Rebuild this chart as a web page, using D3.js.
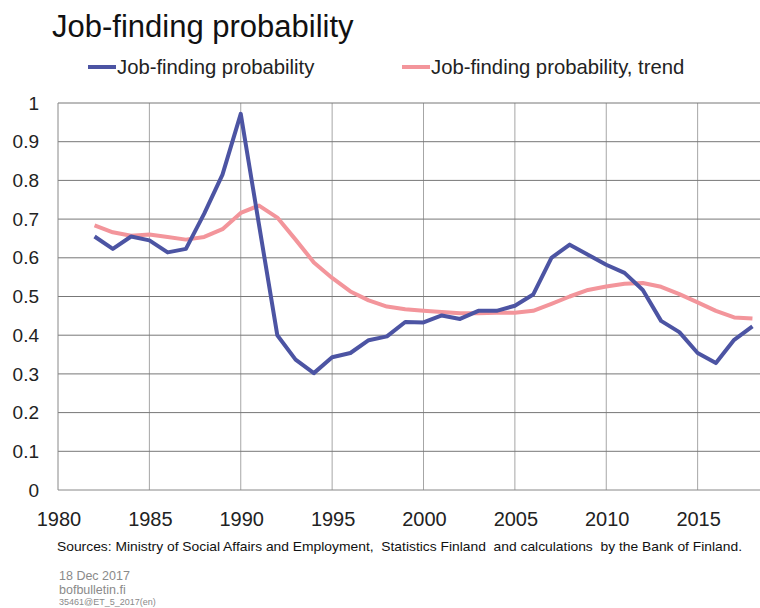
<!DOCTYPE html>
<html>
<head>
<meta charset="utf-8">
<script src="https://cdn.jsdelivr.net/npm/d3@7"></script>
<style>
  body { margin: 0; background: #fff; }
  svg { font-family: "Liberation Sans", Arial, sans-serif; }
</style>
</head>
<body>
<div id="chart"></div>
<script>
const years = d3.range(1982, 2019);
const probability = [0.655, 0.623, 0.655, 0.645, 0.614, 0.623, 0.714, 0.815, 0.972, 0.685,
  0.400, 0.337, 0.302, 0.343, 0.354, 0.387, 0.397, 0.434, 0.433, 0.451,
  0.442, 0.463, 0.463, 0.476, 0.505, 0.600, 0.634, 0.608, 0.582, 0.561,
  0.517, 0.437, 0.408, 0.354, 0.328, 0.388, 0.423];
const trend = [0.684, 0.666, 0.657, 0.660, 0.654, 0.647, 0.654, 0.674, 0.716, 0.735,
  0.704, 0.647, 0.588, 0.548, 0.513, 0.490, 0.474, 0.467, 0.463, 0.460,
  0.457, 0.457, 0.458, 0.458, 0.463, 0.481, 0.500, 0.517, 0.526, 0.533,
  0.535, 0.525, 0.506, 0.485, 0.463, 0.446, 0.443];
const xTicks = [1980, 1985, 1990, 1995, 2000, 2005, 2010, 2015];
const yTicks = [0, 0.1, 0.2, 0.3, 0.4, 0.5, 0.6, 0.7, 0.8, 0.9, 1];
const seriesNames = ["Job-finding probability", "Job-finding probability, trend"];
const colors = ["#4c54a3", "#f3959b"];

let width = 760, height = 608,
    margin = ({ top: 103, right: -29, bottom: 118, left: 58 }); // plot runs past right edge

const svg = d3.select("#chart").append("svg")
  .attr("width", width).attr("height", height);

let x = d3.scaleLinear()
  .domain([1980, 2020])
  .range([margin.left, width - margin.right]);

let y = d3.scaleLinear()
  .domain([0, 1])
  .range([height - margin.bottom, margin.top]);

// grid
svg.append("g")
  .selectAll("line")
  .data(xTicks.slice(1))
  .join("line")
  .attr("x1", d => x(d)).attr("x2", d => x(d))
  .attr("y1", y(0)).attr("y2", y(1))
  .attr("stroke", "#a6a6a6").attr("stroke-width", 1);

svg.append("g")
  .selectAll("line")
  .data(yTicks.slice(1))
  .join("line")
  .attr("x1", x(1980)).attr("x2", width)
  .attr("y1", d => y(d)).attr("y2", d => y(d))
  .attr("stroke", "#777").attr("stroke-width", 1);

// axes lines
svg.append("line")
  .attr("x1", x(1980)).attr("x2", x(1980))
  .attr("y1", y(0)).attr("y2", y(1))
  .attr("stroke", "#888");
svg.append("line")
  .attr("x1", x(1980)).attr("x2", width)
  .attr("y1", y(0)).attr("y2", y(0))
  .attr("stroke", "#888");

// tick labels
svg.append("g")
  .selectAll("text")
  .data(yTicks)
  .join("text")
  .attr("x", 39)
  .attr("y", d => y(d))
  .attr("dy", "0.35em")
  .attr("text-anchor", "end")
  .attr("font-size", 19)
  .attr("fill", "#222")
  .text(d => d3.format("~g")(d));

svg.append("g")
  .selectAll("text")
  .data(xTicks)
  .join("text")
  .attr("x", d => x(d) + 1)
  .attr("y", 526)
  .attr("text-anchor", "middle")
  .attr("font-size", 20)
  .attr("fill", "#222")
  .text(d => d);

// lines
const line = d3.line().x((d, i) => x(years[i])).y(d => y(d));
[trend, probability].forEach((s, k) => {
  svg.append("path")
    .datum(s)
    .attr("fill", "none")
    .attr("stroke", colors[1 - k])
    .attr("stroke-width", 4)
    .attr("stroke-linejoin", "round")
    .attr("d", line);
});

// title
svg.append("text")
  .attr("x", 52).attr("y", 37)
  .attr("font-size", 31)
  .attr("fill", "#111")
  .text("Job-finding probability");

// legend
const legendX = [88, 402];
seriesNames.forEach((n, i) => {
  svg.append("line")
    .attr("x1", legendX[i]).attr("x2", legendX[i] + 28)
    .attr("y1", 67).attr("y2", 67)
    .attr("stroke", colors[i]).attr("stroke-width", 4);
  svg.append("text")
    .attr("x", legendX[i] + 29).attr("y", 74)
    .attr("font-size", 20.3)
    .attr("fill", "#222")
    .text(n);
});

// footer
svg.append("text")
  .attr("x", 57).attr("y", 551)
  .attr("font-size", 13.5)
  .attr("fill", "#111")
  .attr("textLength", 685)
  .attr("lengthAdjust", "spacingAndGlyphs")
  .attr("xml:space", "preserve")
  .text("Sources: Ministry of Social Affairs and Employment,  Statistics Finland  and calculations  by the Bank of Finland.");

const foot = [["18 Dec 2017", 580, 12.5], ["bofbulletin.fi", 594, 12.5], ["35461@ET_5_2017(en)", 605, 9]];
foot.forEach(f => {
  svg.append("text")
    .attr("x", 59).attr("y", f[1])
    .attr("font-size", f[2])
    .attr("fill", "#8a8a8a")
    .text(f[0]);
});
</script>
</body>
</html>
